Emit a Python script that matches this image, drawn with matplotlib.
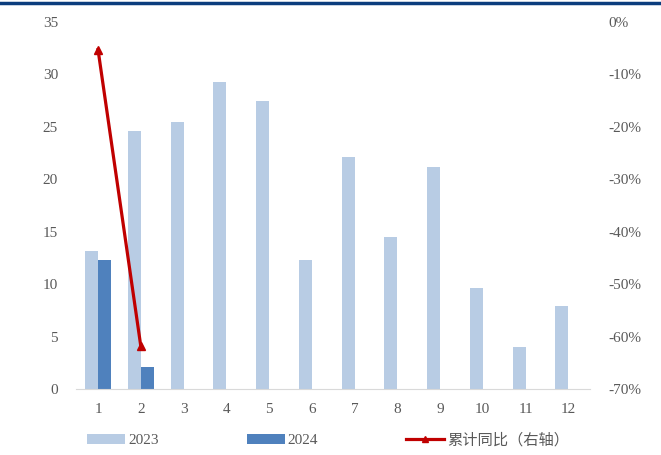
import matplotlib.pyplot as plt
import numpy as np
from matplotlib.lines import Line2D

plt.rcParams['font.family'] = ['Liberation Serif', 'Noto Sans CJK SC']

months = [1, 2, 3, 4, 5, 6, 7, 8, 9, 10, 11, 12]
month_labels = [str(m) for m in months]
values_2023 = [13.2, 24.6, 25.5, 29.3, 27.5, 12.3, 22.1, 14.5, 21.2, 9.6, 4.0, 7.9]
values_2024 = [12.3, 2.1]
cum_yoy = [-5.3, -61.8]  # 累计同比, %

text_color = '#595959'

fig = plt.figure(figsize=(6.61, 4.55), dpi=100)
ax = fig.add_axes([0.115, 0.145, 0.778, 0.807])

x = np.array(months)
w = 0.3
ax.bar(x - w / 2, values_2023, width=w, color='#b8cce4', label='2023', zorder=2)
ax.bar(x[:len(values_2024)] + w / 2, values_2024, width=w, color='#4f81bd', label='2024', zorder=2)

ax.set_xlim(0.485, 12.515)
ax.set_ylim(0, 35)
ax.set_yticks(range(0, 36, 5))
ax.set_xticks(months)
ax.set_xticklabels(month_labels)

for s in ['top', 'right', 'left']:
    ax.spines[s].set_visible(False)
ax.spines['bottom'].set_color('#d9d9d9')
ax.tick_params(axis='both', length=0, colors=text_color, labelsize=11)
ax.tick_params(axis='x', pad=10)
ax.tick_params(axis='y', pad=13)

ax2 = ax.twinx()
ax2.plot(x[:len(cum_yoy)], cum_yoy, color='#c00000', linewidth=2.3,
         marker='^', markersize=6, label='累计同比（右轴）', zorder=3)
ax2.set_ylim(-70, 0)
ax2.set_yticks(range(-70, 1, 10))
ax2.set_yticklabels([f'{v}%' for v in range(-70, 1, 10)])
for s in ax2.spines.values():
    s.set_visible(False)
ax2.tick_params(axis='y', length=0, colors=text_color, labelsize=11, pad=13)

h1, l1 = ax.get_legend_handles_labels()
h2, l2 = ax2.get_legend_handles_labels()
fig.legend(h1 + h2, l1 + l2, loc='center left', bbox_to_anchor=(0.1316, 0.033),
           ncol=3, frameon=False, fontsize=11, labelcolor=text_color,
           borderpad=0, borderaxespad=0, markerscale=0.7,
           handlelength=2.5, handleheight=0.65, columnspacing=5.75, handletextpad=0.2)

# dark line across the top
fig.add_artist(Line2D([0, 1], [0.993, 0.993], transform=fig.transFigure,
                      color='#0b3d7d', linewidth=2.5))

fig.savefig('out.png', dpi=100)
